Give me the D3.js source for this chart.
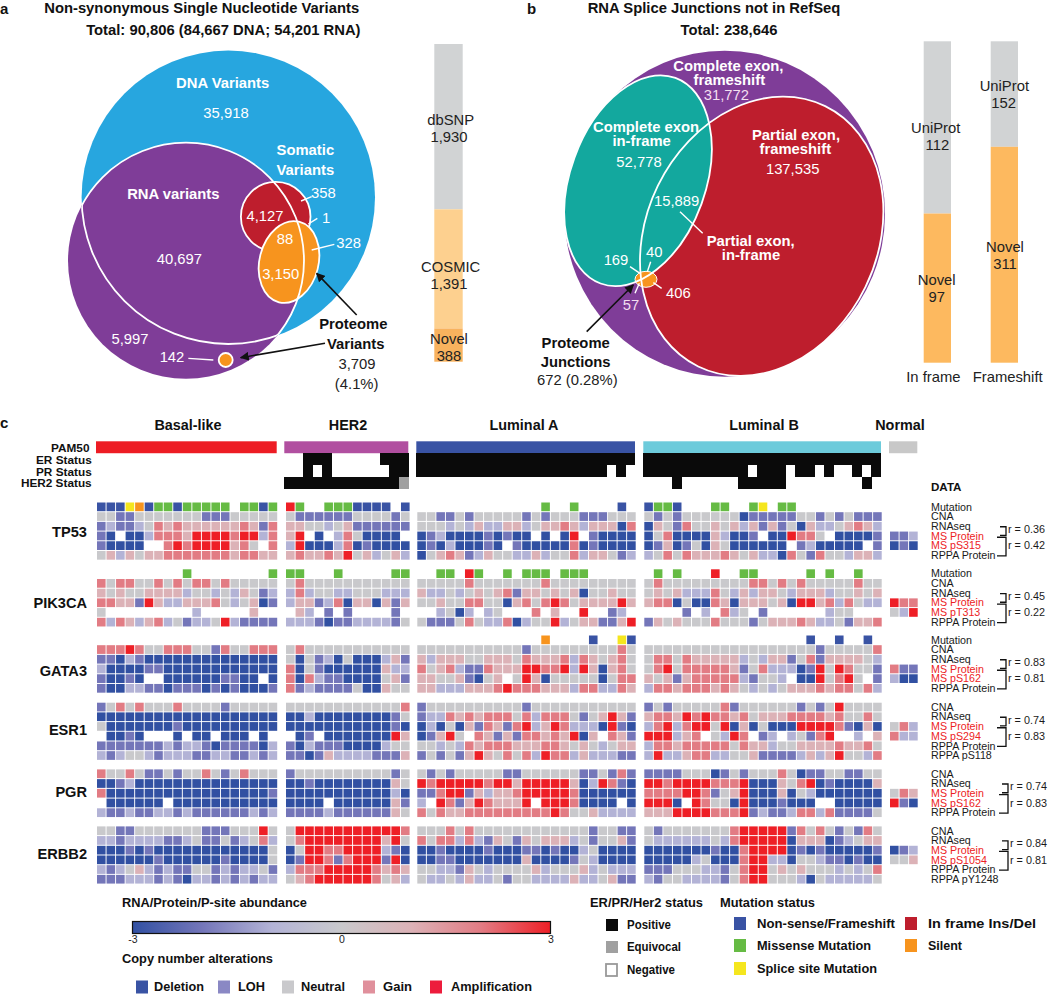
<!DOCTYPE html>
<html><head><meta charset="utf-8">
<script src="https://cdn.jsdelivr.net/npm/d3@7"></script>
<style>html,body{margin:0;padding:0;background:#fff}svg{display:block}text{font-family:"Liberation Sans",Arial,sans-serif}</style>
</head><body><svg id="c" width="1050" height="994"></svg>
<script>
// ---------- panel a/b stacked bars ----------
const variantCategories = ["dbSNP","COSMIC","Novel"];
const variantValues = [1930,1391,388];
const junctionCategories = ["UniProt","Novel"];
const inFrameValues = [112,97];
const frameshiftValues = [152,311];
// ---------- panel c ----------
const subtypes = ["Basal-like","HER2","Luminal A","Luminal B","Normal"];
const subtypeCounts = [19,13,23,25,3];
const genes = ["TP53","PIK3CA","GATA3","ESR1","PGR","ERBB2"];
// status: 1 positive, 0 negative, e equivocal
const ER_status  = ["0000000000000000000","0011100000111","11111111111111111111111","1111111111111111111111111"];
const PR_status  = ["0000000000000000000","0010100000011","11111111111111111111010","1111111111101110110100101"];
const HER2_status= ["0000000000000000000","111111111111e","00000000000000000000000","0001000000111110000000010"];
// mutation: N nonsense, M missense, S splice, I in-frame, R in-frame (bright), L silent, . none
const TP53_Mutation=["NNNSLNMMNMMMMM.MMNM","RM..MMMNNNN.N",".............M..M....N.","NMMN...MM..MS.MM.........",""];
const PIK3CA_Mutation=[".........M........M","MM...M.....MM","..MM.RM..M.MMM.MMM.....",".M.M...R..MM.....M.M..M..",""];
const GATA3_Mutation=["","",".............L....N..SN",".................N..N..N.",""];
// abundance levels 0..6 = -3..3, "." = no value
const TP53_CNA=["3311333333311133333","3111111333313","33113133333131333111333","3131333333011111331313111",""];
const TP53_RNA=["1211235454444445415","4433234111111","33323242244234454244405","0431533434241413042234542",""];
const TP53_MS=["10.0025554666656625","46.0.2530000.","012000010100.0.06.10000","0350000420"+"01.00"+"6553."+"00001","112"];
const TP53_P=["10000..5656666453.5","2600025010000","010200010.1000005010000","0140130430"+"00000"+".1200"+"000.1","010"];
const TP53_RPPA=["3424344555555545544","4544546342342","03454124332242335244312","2353544454"+"34220"+"53153"+"32442",""];
const PIK3CA_CNA=["5355335353553533333","3533333333333","33333533333335333333333","3533333333"+"35535"+"35333"+"33533",""];
const PIK3CA_RNA=["4343344442332324312","2523322333222","42232343451443434033433","3434222532"+"42443"+"24442"+"33434",""];
const PIK3CA_MS=["5544164224445323401","2441250440414","33433553304535653444464","4550300540"+"44434"+"06645"+"25322","655"];
const PIK3CA_P=["3.........2.....4..",".42.1.1....1.","..2302.23...5.4..6..12.","....1.2.52"+"3.1.."+"....2"+"33...","326"];
const PIK3CA_RPPA=["5254245231223621111","2221011222213","31113532250233623441146","1434333533"+"31344"+"45422"+"31445",""];
const GATA3_CNA=["5556533555331533555","3533333333333","33333333333133333333353","3333333333"+"33333"+"33313"+"33335",""];
const GATA3_RNA=["1102100000000000000","3031203000241","42444334443544452543453","3553544444"+"23244"+"13514"+"44432",""];
const GATA3_MS=["2000011000000000000","5031000000422","53452115444665562640453","3563555554"+"13522"+"20163"+"65331","511"];
const GATA3_P=["10010..0000001100.0","5052110000341","44334"+"1034."+"36403"+"33330"+"355","4341455555"+"21332"+".0063"+"563.1","200"];
const GATA3_RPPA=["1002211011101010001","5121111300433","44222444565554442552254","2554555454"+"32323"+"44454"+"55352",""];
const ESR1_CNA=["1353533353333133333","3333333333335","13333333333133333333333","1313333351"+"33333"+"31313"+"63333",""];
const ESR1_RNA=["0000000000000000000","0020000000013","12254545553525553134641","4554656554"+"53444"+"55554"+"53353",""];
const ESR1_MS=["3000000010000000000","0000000000010","02030415415624652220610","2562566360"+"40300"+"06666"+"51040","352"];
const ESR1_P=[".0010...0.00.000.0.",".01.000000064","01463.5414155454604.541","666245.326"+"5.12."+"23156"+"..2.4","522"];
const ESR1_RPPA=["1111111212210111102","1021110000233","33232545554445543432344","2554555553"+"54423"+"34444"+"54453",""];
const ESR1_P2=["2123321222112211212","1101422221114","13131464353526552422211","2622455223"+"34111"+"12424"+"63325",""];
const PGR_CNA=["5335311313353135333","1333333333313","31313333311333333113151","1111333013"+"13335"+"30113"+"31133",""];
const PGR_RNA=["0012000000000000000","0010000000043","65666665664666664026510","6656666555"+"60004"+"35601"+"00004",""];
const PGR_MS=["5000000000000000001","0000000000020","11566142445666665000000","5555665134"+"60004"+"03200"+"00000","354"];
const PGR_P=[".000000.00000000000","0000.00000041","2.651"+"46544"+"46.66"+"65000"+"0.0","6660.65330"+"60001"+"000.."+"00000","610"];
const PGR_RPPA=["2112112212111111212","1111211111143","53544555555555653342222","4446666555"+"61211"+"25525"+"11113",""];
const ERBB2_CNA=["3311333333311133363","3666666666665","33353533333333333313311","3133333335"+"66666"+"15353"+"13153",""];
const ERBB2_RNA=["2212222112311312352","3566666666463","53552521431434442313341","3222222325"+"66666"+"04440"+"12344",""];
const ERBB2_MS=["0001010000000000003","0366556666210","00100001000110100230000","0000000100"+"56666"+"01010"+"00001","012"];
const ERBB2_P=["0000001000000100003","0166515666160","00110000000400001320000","0000023000"+"56622"+"03321"+"10100","334"];
const ERBB2_RPPA=["2123421211331212231","2555666665454","33221432333342333423222","1113332213"+"56634"+"34333"+"23235",""];
const ERBB2_P2=["1112221210221212122","3456666665342","32232422313322224223411","2133222213"+"56633"+"32032"+"22223",""];
const rValues=[[0.36,0.42],[0.45,0.22],[0.83,0.81],[0.74,0.83],[0.74,0.83],[0.84,0.81]];
const cnaLegend=["Deletion","LOH","Neutral","Gain","Amplification"];
const statusLegend=["Positive","Equivocal","Negative"];
const mutationLegend=["Non-sense/Frameshift","Missense Mutation","Splice site Mutation","In frame Ins/Del","Silent"];

const svg=d3.select("#c");
const defs=svg.append("defs");
defs.append("marker").attr("id","ah").attr("viewBox","0 0 10 10").attr("refX",9).attr("refY",5)
 .attr("markerWidth",9).attr("markerHeight",9).attr("markerUnits","userSpaceOnUse").attr("orient","auto")
 .append("path").attr("d","M0,0L10,5L0,10Z").attr("fill","#111");
function T(g,s,x,y,o={}){const t=g.append("text").attr("x",x).attr("y",y).attr("dy","0.35em").text(s)
 .attr("text-anchor",o.a||"middle").attr("font-size",o.s||14.8).attr("font-weight",o.b?"bold":"normal").attr("fill",o.f||"#1a1a1a");
 if(o.w)t.attr("textLength",o.w).attr("lengthAdjust","spacingAndGlyphs");return t;}
const Z=(ox,rows,g)=>rows.forEach(r=>T(g,r[0],ox+r[1]/3,r[2]/3,r[3]||{}));
const W={f:"#fff"},WB={f:"#fff",b:1},KB={f:"#111",b:1},K={f:"#222"},PK={f:"#f3dff0"};
function ln(g,pts,col,w,arrow){const l=g.append("line").attr("x1",pts[0]).attr("y1",pts[1]).attr("x2",pts[2]).attr("y2",pts[3]).attr("stroke",col).attr("stroke-width",w);if(arrow)l.attr("marker-end","url(#ah)");}

// ---- panel a ----
const a=svg.append("g");
const blue={cx:228.3,cy:197.3,r:146.7},purple={cx:186,cy:260.7,r:118};
defs.append("clipPath").attr("id","clipBlue").append("circle").attr("cx",blue.cx).attr("cy",blue.cy).attr("r",blue.r);
defs.append("clipPath").attr("id","clipPurple").append("circle").attr("cx",purple.cx).attr("cy",purple.cy).attr("r",purple.r);
a.append("circle").attr("cx",blue.cx).attr("cy",blue.cy).attr("r",blue.r).attr("fill","#27a6df");
a.append("circle").attr("cx",purple.cx).attr("cy",purple.cy).attr("r",purple.r).attr("fill","#7f3d98");
a.append("circle").attr("cx",275.7).attr("cy",216.7).attr("r",34.8).attr("fill","#be1e2d").attr("stroke","#fff").attr("stroke-width",1.8);
a.append("ellipse").attr("cx",289).attr("cy",262).attr("rx",29.5).attr("ry",41.5).attr("transform","rotate(14 289 262)").attr("fill","#f7941e").attr("stroke","#fff").attr("stroke-width",1.8);
a.append("circle").attr("cx",purple.cx).attr("cy",purple.cy).attr("r",purple.r).attr("fill","none").attr("stroke","#fff").attr("stroke-width",1.8).attr("clip-path","url(#clipBlue)");
a.append("circle").attr("cx",blue.cx).attr("cy",blue.cy).attr("r",blue.r).attr("fill","none").attr("stroke","#fff").attr("stroke-width",1.8).attr("clip-path","url(#clipPurple)");
a.append("circle").attr("cx",225.7).attr("cy",360).attr("r",7).attr("fill","#f7941e").attr("stroke","#fff").attr("stroke-width",1.8);
[[935,590,903,603],[952,655,925,672],[1003,733,935,750],[565,1075,640,1080]].forEach(p=>ln(a,p.map(v=>v/3),"#fff",1.4));
ln(a,[1070,945,950,820].map(v=>v/3),"#111",1.6,true);
ln(a,[975,1030,722,1073].map(v=>v/3),"#111",1.6,true);
Z(0,[["Non-synonymous Single Nucleotide Variants",605,22,KB],["Total: 90,806 (84,667 DNA; 54,201 RNA)",670,89,KB],
 ["DNA Variants",668,248,WB],["35,918",678,339,W],["Somatic",916,449,WB],["Variants",916,508,WB],["RNA variants",520,581,WB],
 ["358",970,578,W],["4,127",795,648,W],["1",978,653,W],["88",855,716,W],["328",1046,729,W],["3,150",842,820,W],["40,697",538,776,W],
 ["5,997",390,1015,W],["142",516,1071,W],["Proteome",1060,971,KB],["Variants",1067,1031,KB],["3,709",1071,1090,K],["(4.1%)",1070,1151,K]],a);
T(a,"a",0,9,{a:"start",b:1,s:15,f:"#111"});
const ya=d3.scaleLinear().domain([0,d3.sum(variantValues)]).range([44,361.7]);
const barColA=d3.scaleOrdinal().domain(variantCategories).range(["#d1d3d4","#fdd08f","#f8b25e"]);
let acc=0;
variantValues.forEach((v,i)=>{a.append("rect").attr("x",434.3).attr("width",28.4).attr("y",ya(acc)).attr("height",ya(acc+v)-ya(acc)).attr("fill",barColA(variantCategories[i]));acc+=v;});
[[1352,360,1347,411],[1352,800,1347,851],[1347,1017,1347,1067]].forEach((p,i)=>{T(a,variantCategories[i],p[0]/3,p[1]/3,K);T(a,d3.format(",")(variantValues[i]),p[2]/3,p[3]/3,K);});

// ---- panel b ----
const b=svg.append("g");
b.append("ellipse").attr("cx",724.7).attr("cy",213.7).attr("rx",160.3).attr("ry",163).attr("fill","#7f3d98");
b.append("ellipse").attr("cx",761.7).attr("cy",236.3).attr("rx",115.5).attr("ry",144.8).attr("transform","rotate(26 761.7 236.3)").attr("fill","#be1e2d");
b.append("ellipse").attr("cx",638).attr("cy",180.7).attr("rx",67.6).attr("ry",109.4).attr("transform","rotate(20 638 180.7)").attr("fill","#13a89e");
b.append("ellipse").attr("cx",646).attr("cy",279.3).attr("rx",11).attr("ry",8).attr("fill","#f7941e").attr("stroke","#fff").attr("stroke-width",1);
b.append("ellipse").attr("cx",761.7).attr("cy",236.3).attr("rx",115.5).attr("ry",144.8).attr("transform","rotate(26 761.7 236.3)").attr("fill","none").attr("stroke","#fff").attr("stroke-width",1.8);
b.append("ellipse").attr("cx",638).attr("cy",180.7).attr("rx",67.6).attr("ry",109.4).attr("transform","rotate(20 638 180.7)").attr("fill","none").attr("stroke","#fff").attr("stroke-width",1.8);
[[480,635,548,700],[330,800,360,820],[392,785,382,815],[425,865,400,848],[345,880,358,850]].forEach(p=>ln(b,[520+p[0]/3,p[1]/3,520+p[2]/3,p[3]/3],"#fff",1.4));
ln(b,[520+200/3,995/3,520+340/3,855/3],"#111",1.6,true);
Z(520,[["RNA Splice Junctions not in RefSeq",582,22,KB],["Total: 238,646",627,89,KB],
 ["Complete exon,",625,197,WB],["frameshift",628,238,WB],["31,772",619,285,PK],["Complete exon",378,381,WB],["in-frame",365,423,WB],["52,778",357,486,W],
 ["Partial exon,",828,403,WB],["frameshift",826,445,WB],["137,535",818,506,W],["15,889",470,601,W],["Partial exon,",692,723,WB],["in-frame",693,765,WB],
 ["169",288,778,W],["40",403,754,W],["406",475,878,W],["57",333,914,PK],["Proteome",167,1027,KB],["Junctions",167,1084,KB],["672 (0.28%)",172,1140,K],
 ["In frame",1240,1130,K],["Frameshift",1463,1130,K]],b);
T(b,"b",527,9,{a:"start",b:1,s:15,f:"#111"});
const barColB=d3.scaleOrdinal().domain(junctionCategories).range(["#d1d3d4","#fdb95f"]);
function jbar(vals,x0,lab){const y=d3.scaleLinear().domain([0,d3.sum(vals)]).range([41.3,362.7]);let s=0;
 vals.forEach((v,i)=>{b.append("rect").attr("x",x0).attr("width",27.3).attr("y",y(s)).attr("height",y(s+v)-y(s)).attr("fill",barColB(junctionCategories[i]));s+=v;
  T(b,junctionCategories[i],520+lab[i][0]/3,lab[i][1]/3,K);T(b,String(v),520+lab[i][2]/3,lab[i][3]/3,K);});}
jbar(inFrameValues,923.7,[[1247,384,1252,434],[1250,840,1250,890]]);
jbar(frameshiftValues,990.7,[[1453,258,1451,308],[1455,740,1455,791]]);

// ---- panel c ----
const c=svg.append("g");
T(c,"c",0,423,{a:"start",b:1,s:15,f:"#111"});
const barRanges=[[96,276.7],[284.3,408.3],[416.3,635],[643.3,881],[889,917.3]];
const cellRanges=[[97,277.2],[286,409.6],[417.3,635.7],[644.3,881.7],[890,917.7]];
const subtypeColor=d3.scaleOrdinal().domain(subtypes).range(["#ed1c24","#b14fa0","#3953a4","#6dcbdb","#c8c8c8"]);
const headX=[188,348,524,764,900];
const statusY=d3.scaleBand().domain(["PAM50","ER","PR","HER2"]).range([441.3,489]);
subtypes.forEach((s,i)=>{T(c,s,headX[i],425,{b:1,s:14.4,f:"#111"});
 c.append("rect").attr("x",barRanges[i][0]).attr("width",barRanges[i][1]-barRanges[i][0]).attr("y",statusY("PAM50")).attr("height",statusY.bandwidth()).attr("fill",subtypeColor(s));});
[["ER",ER_status],["PR",PR_status],["HER2",HER2_status]].forEach(([k,arr])=>{arr.forEach((str,i)=>{
 const x=d3.scaleBand().domain(d3.range(subtypeCounts[i])).range(barRanges[i]);
 c.selectAll(null).data(str.split("").map((v,j)=>({v,j})).filter(d=>d.v!=="0")).join("rect").attr("shape-rendering","crispEdges")
  .attr("x",d=>x(d.j)).attr("width",x.bandwidth()+0.3).attr("y",statusY(k)).attr("height",statusY.bandwidth()+0.3).attr("fill",d=>d.v==="1"?"#0a0a0a":"#a0a0a0");});});
[["PAM50",89.5,448],["ER Status",91.7,459.7],["PR Status",91.7,471.7],["HER2 Status",91.7,483.3]].forEach(d=>T(c,d[0],d[1],d[2],{a:"end",b:1,s:11.8,f:"#111"}));
T(c,"DATA",931,487,{a:"start",b:1,s:11.6,f:"#111"});

const abundance=d3.scaleLinear().domain([-3,-2,-1,0,1,2,3]).range(["#3150a2","#7476b9","#b3b3d6","#c9c9cc","#dcb2b7","#e27c84","#ee1f26"]);
const mutColor={N:"#3953a4",M:"#66bb44",S:"#f5e61e",I:"#be1e2d",R:"#ee1f26",L:"#f7941e"};
const panels=[
 {top:502.5,labelY:531.7,rows:[["Mutation",TP53_Mutation,1],["CNA",TP53_CNA],["RNAseq",TP53_RNA],["MS Protein",TP53_MS],["MS pS315",TP53_P],["RPPA Protein",TP53_RPPA]]},
 {top:569.3,labelY:603,rows:[["Mutation",PIK3CA_Mutation,1],["CNA",PIK3CA_CNA],["RNAseq",PIK3CA_RNA],["MS Protein",PIK3CA_MS],["MS pT313",PIK3CA_P],["RPPA Protein",PIK3CA_RPPA]]},
 {top:635.5,labelY:670.7,rows:[["Mutation",GATA3_Mutation,1],["CNA",GATA3_CNA],["RNAseq",GATA3_RNA],["MS Protein",GATA3_MS],["MS pS162",GATA3_P],["RPPA Protein",GATA3_RPPA]]},
 {top:702.7,labelY:730,rows:[["CNA",ESR1_CNA],["RNAseq",ESR1_RNA],["MS Protein",ESR1_MS],["MS pS294",ESR1_P],["RPPA Protein",ESR1_RPPA],["RPPA pS118",ESR1_P2]]},
 {top:769.4,labelY:792,dx:2,rows:[["CNA",PGR_CNA],["RNAseq",PGR_RNA],["MS Protein",PGR_MS],["MS pS162",PGR_P],["RPPA Protein",PGR_RPPA]]},
 {top:826.4,labelY:854,dx:2,rows:[["CNA",ERBB2_CNA],["RNAseq",ERBB2_RNA],["MS Protein",ERBB2_MS],["MS pS1054",ERBB2_P],["RPPA Protein",ERBB2_RPPA],["RPPA pY1248",ERBB2_P2]]}
];
const pitch=9.53;
panels.forEach((p,gi)=>{
 T(c,genes[gi],87,p.labelY,{a:"end",b:1,s:14.6,f:"#111"});
 const y=d3.scaleBand().domain(p.rows.map(r=>r[0])).range([p.top,p.top+pitch*p.rows.length]).paddingInner(0.1);
 p.rows.forEach(([name,arr,isMut])=>{
  arr.forEach((str,i)=>{ if(!str)return;
   const x=d3.scaleBand().domain(d3.range(subtypeCounts[i])).range(cellRanges[i]).paddingInner(0.1);
   c.selectAll(null).data(str.split("").map((v,j)=>({v,j})).filter(d=>d.v!==".")).join("rect")
    .attr("x",d=>x(d.j)).attr("width",x.bandwidth()).attr("y",y(name)).attr("height",y.bandwidth())
    .attr("fill",d=>isMut?mutColor[d.v]:abundance(+d.v-3));});
  const red=name.startsWith("MS ");
  T(c,name,931,y(name)+y.bandwidth()/2,{a:"start",s:10.7,f:red?"#ed2224":"#1a1a1a"});
 });
 const cy=n=>y(n)+y.bandwidth()/2, pn=p.rows.filter(r=>r[0].startsWith("MS "))[1][0], dx=p.dx||0;
 const bx1=1000+dx,bx2=1006+dx;
 const br=(a,b,x0)=>c.append("path").attr("d",`M${x0},${a}H${bx2}V${b}H${x0}`).attr("fill","none").attr("stroke","#111").attr("stroke-width",1.3);
 br(cy("RNAseq")+0.5,cy("MS Protein")-0.5,bx1);
 br(cy("MS Protein")+1.3,cy("RPPA Protein")+0.5,bx1-3);
 T(c,"r = "+rValues[gi][0].toFixed(2),1008+dx,cy("RNAseq")+3,{a:"start",s:10.8});
 T(c,"r = "+rValues[gi][1].toFixed(2),1008+dx,cy(pn),{a:"start",s:10.8});
});

// ---- legends ----
const leg=svg.append("g");
T(leg,"RNA/Protein/P-site abundance",122,903,{a:"start",b:1,s:12.2,f:"#111",w:185});
const grad=defs.append("linearGradient").attr("id","gr");
const cb=d3.scaleLinear().domain([-3,3]).range([132.5,550.5]);
[-3,-2,-1,0,1,2,3].forEach(v=>grad.append("stop").attr("offset",(v+3)/6).attr("stop-color",abundance(v)));
leg.append("rect").attr("x",cb(-3)).attr("y",921.5).attr("width",cb(3)-cb(-3)).attr("height",12).attr("fill","url(#gr)").attr("stroke","#111").attr("stroke-width",1.2);
const ax=leg.append("g").attr("transform","translate(0,935)").call(d3.axisBottom(cb).tickValues([-3,0,3]).tickSize(0).tickFormat(String));
ax.select(".domain").remove();ax.selectAll("text").attr("font-size",10.5).attr("font-family","Liberation Sans").attr("fill","#222").attr("dy","0.5em");
T(leg,"Copy number alterations",122,959,{a:"start",b:1,s:12.2,f:"#111",w:151});
const cnaCol=d3.scaleOrdinal().domain(cnaLegend).range(["#3953a4","#8a88c4","#c9c9cc","#e0909c","#ed1c3c"]);
[[136,154,50],[218,238,27],[282,301,44],[363,383,29],[430,451,81]].forEach((p,i)=>{
 leg.append("rect").attr("x",p[0]).attr("y",980.5).attr("width",12).attr("height",13).attr("fill",cnaCol(cnaLegend[i]));
 T(leg,cnaLegend[i],p[1],987,{a:"start",b:1,s:12.2,f:"#111",w:p[2]});});
T(leg,"ER/PR/Her2 status",590,903,{a:"start",b:1,s:12.2,f:"#111",w:113});
T(leg,"Mutation status",720,903,{a:"start",b:1,s:12.2,f:"#111",w:95});
[[925,"#0a0a0a",44],[947,"#a0a0a0",54],[970,null,48]].forEach((p,i)=>{
 leg.append("rect").attr("x",606).attr("y",p[0]-6).attr("width",p[1]?12:11).attr("height",12).attr("fill",p[1]||"#fff").attr("stroke",p[1]?"none":"#999").attr("stroke-width",1.8);
 T(leg,statusLegend[i],627,p[0],{a:"start",b:1,s:12.2,f:"#111",w:p[2]});});
[[734,924,"#3953a4",757,138],[734,946,"#66bb44",757,114],[734,969,"#f5e61e",757,120],[905,924,"#be1e2d",928,108],[905,946,"#f7941e",928,34]].forEach((p,i)=>{
 leg.append("rect").attr("x",p[0]).attr("y",p[1]-7).attr("width",12).attr("height",13).attr("fill",p[2]);
 T(leg,mutationLegend[i],p[3],p[1],{a:"start",b:1,s:12.2,f:"#111",w:p[4]});});
</script></body></html>
